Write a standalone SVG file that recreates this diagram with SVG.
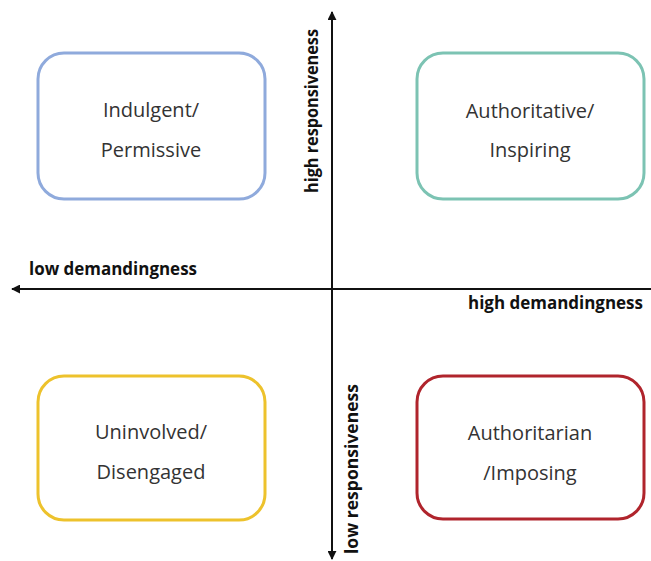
<svg xmlns="http://www.w3.org/2000/svg" width="651" height="561" viewBox="0 0 651 561">
  <style>
    .box { fill: #ffffff; stroke-width: 3; }
    .label { font-family: "Open Sans", "Liberation Sans", sans-serif; font-size: 20px; fill: #333333; text-anchor: middle; }
    .axis-label { font-family: "Open Sans", "Liberation Sans", sans-serif; font-size: 17px; font-weight: bold; fill: #111111; }
    .axis { stroke: #111111; stroke-width: 2; fill: none; }
  </style>
  <defs>
    <marker id="arrow" viewBox="0 0 10 10" refX="9" refY="5" markerWidth="4.5" markerHeight="4.5" orient="auto">
      <path d="M0,0 L10,5 L0,10 z" fill="#111111"/>
    </marker>
  </defs>
  <rect width="651" height="561" fill="#ffffff"/>

  <!-- axes -->
  <g id="connectors">
    <line class="axis" x1="332" y1="289" x2="332" y2="12" marker-end="url(#arrow)"/>
    <line class="axis" x1="332" y1="289" x2="332" y2="559" marker-end="url(#arrow)"/>
    <line class="axis" x1="651" y1="289" x2="12" y2="289" marker-end="url(#arrow)"/>
  </g>

  <!-- axis labels -->
  <g id="axis-labels">
    <text class="axis-label" x="29" y="275" textLength="168" lengthAdjust="spacingAndGlyphs">low demandingness</text>
    <text class="axis-label" x="468" y="309" textLength="175" lengthAdjust="spacingAndGlyphs">high demandingness</text>
    <text class="axis-label" transform="translate(318,193) rotate(-90)" textLength="164" lengthAdjust="spacingAndGlyphs">high responsiveness</text>
    <text class="axis-label" transform="translate(358,554) rotate(-90)" textLength="170" lengthAdjust="spacingAndGlyphs">low responsiveness</text>
  </g>

  <g id="indulgent">
    <rect class="box" x="38" y="53" width="227" height="146" rx="26" stroke="#8FAADC"/>
    <text class="label" x="151" y="117">Indulgent/</text>
    <text class="label" x="151" y="157">Permissive</text>
  </g>

  <g id="authoritative">
    <rect class="box" x="417" y="53" width="227" height="146" rx="26" stroke="#7CC3B3"/>
    <text class="label" x="530" y="118">Authoritative/</text>
    <text class="label" x="530" y="157">Inspiring</text>
  </g>

  <g id="uninvolved">
    <rect class="box" x="38" y="376" width="227" height="144" rx="26" stroke="#EDC22C"/>
    <text class="label" x="151" y="439">Uninvolved/</text>
    <text class="label" x="151" y="479">Disengaged</text>
  </g>

  <g id="authoritarian">
    <rect class="box" x="417" y="376" width="227" height="143" rx="26" stroke="#B0242C"/>
    <text class="label" x="530" y="440">Authoritarian</text>
    <text class="label" x="530" y="480">/Imposing</text>
  </g>
</svg>
